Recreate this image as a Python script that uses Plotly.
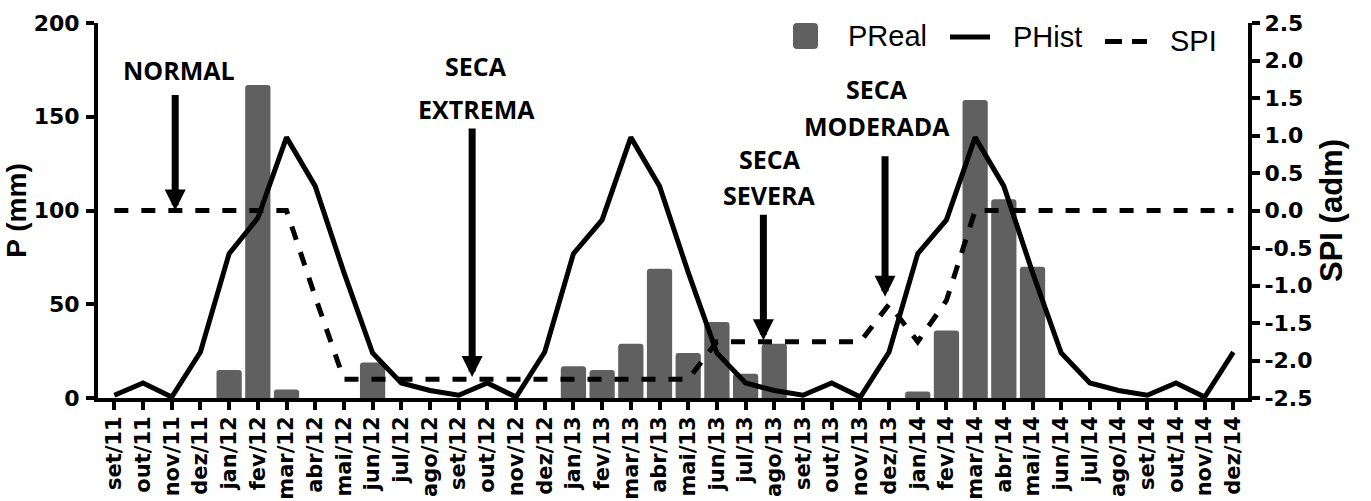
import plotly.graph_objects as go

# ---------------- data ----------------
months = ["set/11", "out/11", "nov/11", "dez/11",
          "jan/12", "fev/12", "mar/12", "abr/12", "mai/12", "jun/12",
          "jul/12", "ago/12", "set/12", "out/12", "nov/12", "dez/12",
          "jan/13", "fev/13", "mar/13", "abr/13", "mai/13", "jun/13",
          "jul/13", "ago/13", "set/13", "out/13", "nov/13", "dez/13",
          "jan/14", "fev/14", "mar/14", "abr/14", "mai/14", "jun/14",
          "jul/14", "ago/14", "set/14", "out/14", "nov/14", "dez/14"]

p_real = [None, None, None, None,
          15, 167, 4.5, None, None, 19,
          None, None, None, None, None, None,
          17, 15, 29, 69, 24, 40.5,
          13, 29, None, None, None, None,
          3.5, 36, 159, 106, 70, None,
          None, None, None, None, None, None]

p_hist = [1.5, 8, 0.5, 24.5,
          77, 96, 139, 113, 67, 24,
          8, 4, 1.5, 8, 0.5, 24.5,
          77, 95, 139, 113, 67, 24,
          8, 4, 1.5, 8, 0.5, 24.5,
          77, 95, 139, 113, 67, 24,
          8, 4, 1.5, 8, 0.5, 24.5]

spi = [0, 0, 0, 0,
       0, 0, 0, -1.15, -2.25, -2.25,
       -2.25, -2.25, -2.25, -2.25, -2.25, -2.25,
       -2.25, -2.25, -2.25, -2.25, -2.25, -1.75,
       -1.75, -1.75, -1.75, -1.75, -1.75, -1.25,
       -1.75, -1.2, 0, 0, 0, 0,
       0, 0, 0, 0, 0, 0]

p_ticks = [0, 50, 100, 150, 200]
spi_ticks = [-2.5, -2.0, -1.5, -1.0, -0.5, 0.0, 0.5, 1.0, 1.5, 2.0, 2.5]
spi_ticktext = ["-2.5", "-2.0", "-1.5", "-1.0", "-0.5", "0.0",
                "0.5", "1.0", "1.5", "2.0", "2.5"]

series_names = ["PReal", "PHist", "SPI"]

# drought class labels: (text lines, arrow tip category position, arrow tip SPI)
class_labels = [
    (["NORMAL"], 2.12, 0.0),
    (["SECA", "EXTREMA"], 12.47, -2.22),
    (["SECA", "SEVERA"], 22.62, -1.73),
    (["SECA", "MODERADA"], 26.86, -1.15),
]

# ---------------- layout geometry (pixels) ----------------
W, H = 1371, 501
ML, MR, MT, MB = 98, 123, 23, 103
PW = W - ML - MR
PH = H - MT - MB


def px_x(px):
    return (px - ML) / PW


def px_y(py):
    return (H - MB - py) / PH


BAR_COLOR = "#606060"
XTICK_FONT = dict(family="DejaVu Sans", size=21, color="black", weight="bold")
YTICK_FONT = dict(family="DejaVu Sans", size=22, color="black", weight="bold")

fig = go.Figure()

fig.add_trace(go.Bar(
    x=months, y=p_real, name=series_names[0],
    marker=dict(color=BAR_COLOR, line=dict(width=0), cornerradius=3),
    yaxis="y", showlegend=False,
))
fig.add_trace(go.Scatter(
    x=months, y=p_hist, name=series_names[1], mode="lines",
    line=dict(color="black", width=5),
    yaxis="y", showlegend=False,
))
fig.add_trace(go.Scatter(
    x=months, y=spi, name=series_names[2], mode="lines",
    line=dict(color="black", width=5, dash="14px,13px"),
    yaxis="y2", showlegend=False,
))

annotations = []
shapes = []

# class labels and arrows
text_pos = {  # label -> (x category position, [line centre pixels y])
    0: (2.25, [70]),
    1: (12.61, [66, 109]),
    2: (22.85, [159, 195]),
    3: (26.58, [89, 126]),
}
tail_len = [117, 250, 127, 142]
for i, (lines, tip_x, tip_y) in enumerate(class_labels):
    cx, ys = text_pos[i]
    for line_text, py in zip(lines, ys):
        annotations.append(dict(
            x=cx, xref="x", y=px_y(py), yref="paper",
            text=line_text, showarrow=False,
            xanchor="center", yanchor="middle",
            font=dict(family="Open Sans", size=25, color="black", weight="bold"),
        ))
    annotations.append(dict(
        x=tip_x, xref="x", y=tip_y, yref="y2",
        text="", showarrow=True, ax=0, ay=-tail_len[i],
        arrowcolor="black", arrowwidth=7, arrowhead=2, arrowsize=0.6,
        standoff=0,
    ))

# custom legend
LEG_FONT = dict(family="Liberation Sans", size=29, color="black")
# PReal rounded square
x0, x1, y0, y1, r = 793, 818, 23, 49, 4
path = (f"M {px_x(x0 + r)},{px_y(y0)} L {px_x(x1 - r)},{px_y(y0)} "
        f"Q {px_x(x1)},{px_y(y0)} {px_x(x1)},{px_y(y0 + r)} "
        f"L {px_x(x1)},{px_y(y1 - r)} Q {px_x(x1)},{px_y(y1)} {px_x(x1 - r)},{px_y(y1)} "
        f"L {px_x(x0 + r)},{px_y(y1)} Q {px_x(x0)},{px_y(y1)} {px_x(x0)},{px_y(y1 - r)} "
        f"L {px_x(x0)},{px_y(y0 + r)} Q {px_x(x0)},{px_y(y0)} {px_x(x0 + r)},{px_y(y0)} Z")
shapes.append(dict(type="path", xref="paper", yref="paper", path=path,
                   fillcolor=BAR_COLOR, line=dict(width=0)))
annotations.append(dict(x=px_x(846), y=px_y(36), xref="paper", yref="paper",
                        text=series_names[0], showarrow=False, xanchor="left",
                        yanchor="middle", font=LEG_FONT))
# PHist solid line
shapes.append(dict(type="line", xref="paper", yref="paper",
                   x0=px_x(950), x1=px_x(990), y0=px_y(37), y1=px_y(37),
                   line=dict(color="black", width=5)))
annotations.append(dict(x=px_x(1011), y=px_y(37), xref="paper", yref="paper",
                        text=series_names[1], showarrow=False, xanchor="left",
                        yanchor="middle", font=LEG_FONT))
# SPI dashed line
shapes.append(dict(type="line", xref="paper", yref="paper",
                   x0=px_x(1105), x1=px_x(1147), y0=px_y(41.5), y1=px_y(41.5),
                   line=dict(color="black", width=5, dash="17px,10px")))
annotations.append(dict(x=px_x(1168), y=px_y(41), xref="paper", yref="paper",
                        text=series_names[2], showarrow=False, xanchor="left",
                        yanchor="middle", font=LEG_FONT))

fig.update_layout(
    width=W, height=H,
    margin=dict(l=ML, r=MR, t=MT, b=MB, pad=0),
    paper_bgcolor="white", plot_bgcolor="white",
    bargap=0.12,
    showlegend=False,
    xaxis=dict(
        type="category", range=[-0.57, 39.51],
        tickmode="array", tickvals=months, ticktext=months,
        tickangle=-90, tickfont=XTICK_FONT, ticklabelstandoff=-2,
        showline=True, linecolor="black", linewidth=4,
        ticks="outside", ticklen=8, tickwidth=3.5, tickcolor="black",
        showgrid=False, zeroline=False, automargin=False,
    ),
    yaxis=dict(
        range=[0, 200], tickmode="array", tickvals=p_ticks,
        tickfont=YTICK_FONT, ticklabelstandoff=2,
        showline=True, linecolor="black", linewidth=4,
        ticks="outside", ticklen=8, tickwidth=3.5, tickcolor="black",
        showgrid=False, zeroline=False, automargin=False,
        title=dict(text="P (mm)", standoff=0,
                   font=dict(family="Liberation Sans", size=28, color="black", weight="bold")),
    ),
    yaxis2=dict(
        range=[-2.5, 2.5], overlaying="y", side="right",
        tickmode="array", tickvals=spi_ticks, ticktext=spi_ticktext,
        tickfont=YTICK_FONT,
        showline=True, linecolor="black", linewidth=4,
        ticks="outside", ticklen=8, tickwidth=3.5, tickcolor="black",
        showgrid=False, zeroline=False, automargin=False,
        title=dict(text="SPI (adm)", standoff=10,
                   font=dict(family="Liberation Sans", size=31, color="black", weight="bold")),
    ),
    annotations=annotations,
    shapes=shapes,
)

fig.write_html("out.html",
               config={"displayModeBar": False},
               post_script="document.body.style.margin='0';document.body.style.overflow='hidden';")
